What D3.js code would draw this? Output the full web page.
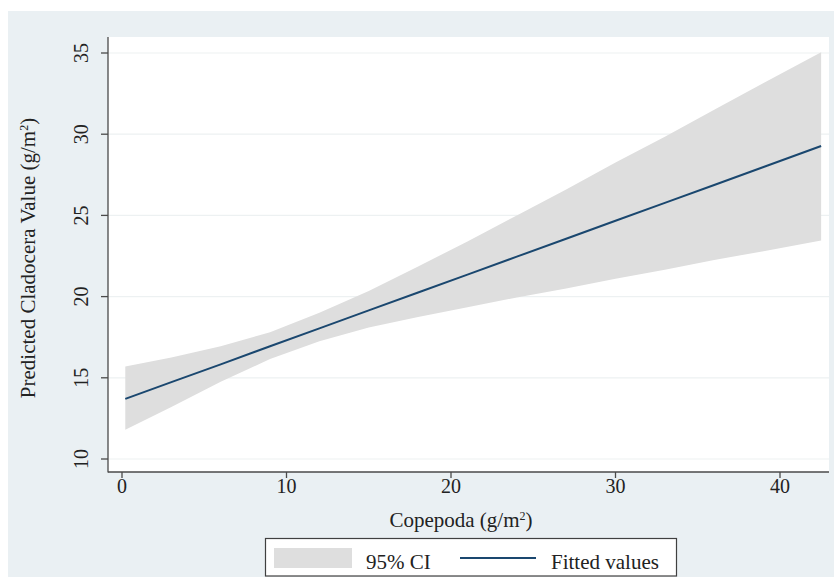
<!DOCTYPE html>
<html>
<head>
<meta charset="utf-8">
<script src="https://cdn.jsdelivr.net/npm/d3@7"></script>
<style>
  html, body { margin: 0; padding: 0; background: #ffffff; }
  svg { display: block; }
  text { font-family: "Liberation Serif", "Times New Roman", "DejaVu Serif", serif; fill: #222; }
</style>
</head>
<body>
<svg id="chart" width="834" height="577"></svg>
<script>
// ---- data ----
const copepoda   = [0.2, 3, 6, 9, 12, 15, 18, 21, 24, 27, 30, 33, 36, 39, 42.5];
const fitted     = [13.70, 14.73, 15.83, 16.94, 18.04, 19.15, 20.25, 21.35, 22.46, 23.56, 24.67, 25.77, 26.87, 27.98, 29.27];
const ciUpper    = [15.70, 16.25, 16.95, 17.80, 19.00, 20.35, 21.85, 23.40, 25.00, 26.60, 28.25, 29.85, 31.50, 33.15, 35.05];
const ciLower    = [11.80, 13.20, 14.75, 16.15, 17.25, 18.10, 18.75, 19.35, 19.95, 20.50, 21.10, 21.65, 22.25, 22.80, 23.45];
const xTicks     = [0, 10, 20, 30, 40];
const yTicks     = [10, 15, 20, 25, 30, 35];
const xTitle     = "Copepoda (g/m";
const yTitle     = "Predicted Cladocera Value (g/m";
const legendLabels = ["95% CI", "Fitted values"];

// ---- layout ----
const W = 834, H = 577;
const plot = { left: 108, right: 829, top: 37, bottom: 472 };
const svg = d3.select("#chart");

const x = d3.scaleLinear().domain([0, 40]).range([122, 780]);
const y = d3.scaleLinear().domain([10, 35]).range([459, 53]);

// graph region background
svg.append("rect").attr("x", 8).attr("y", 11).attr("width", W - 8).attr("height", H - 11)
  .attr("fill", "#eaf0f3");
// plot region
svg.append("rect").attr("x", plot.left).attr("y", plot.top)
  .attr("width", plot.right - plot.left).attr("height", plot.bottom - plot.top)
  .attr("fill", "#ffffff");

// gridlines
svg.append("g").selectAll("line").data(yTicks).join("line")
  .attr("x1", plot.left).attr("x2", plot.right)
  .attr("y1", d => y(d)).attr("y2", d => y(d))
  .attr("stroke", "#edf1f2").attr("stroke-width", 1.2);

const rows = copepoda.map((c, i) => ({ c, f: fitted[i], u: ciUpper[i], l: ciLower[i] }));

// CI band
svg.append("path").datum(rows)
  .attr("d", d3.area().x(d => x(d.c)).y0(d => y(d.l)).y1(d => y(d.u)))
  .attr("fill", "#dedede");

// fitted line
svg.append("path").datum(rows)
  .attr("d", d3.line().x(d => x(d.c)).y(d => y(d.f)))
  .attr("fill", "none").attr("stroke", "#1a476f").attr("stroke-width", 2);

// axes
const axisColor = "#4a4a4a";
svg.append("line").attr("x1", plot.left).attr("x2", plot.left)
  .attr("y1", plot.top).attr("y2", plot.bottom + 0.5)
  .attr("stroke", axisColor).attr("stroke-width", 1.3);
svg.append("line").attr("x1", plot.left).attr("x2", plot.right)
  .attr("y1", plot.bottom).attr("y2", plot.bottom)
  .attr("stroke", axisColor).attr("stroke-width", 1.3);

// y ticks & labels
const yg = svg.append("g");
yg.selectAll("line").data(yTicks).join("line")
  .attr("x1", plot.left - 7).attr("x2", plot.left)
  .attr("y1", d => y(d)).attr("y2", d => y(d))
  .attr("stroke", axisColor).attr("stroke-width", 1.3);
yg.selectAll("text").data(yTicks).join("text")
  .attr("transform", d => `translate(88,${y(d)}) rotate(-90)`)
  .attr("text-anchor", "middle")
  .style("font-size", "20px")
  .text(d => d);

// x ticks & labels
const xg = svg.append("g");
xg.selectAll("line").data(xTicks).join("line")
  .attr("x1", d => x(d)).attr("x2", d => x(d))
  .attr("y1", plot.bottom).attr("y2", plot.bottom + 6)
  .attr("stroke", axisColor).attr("stroke-width", 1.3);
xg.selectAll("text").data(xTicks).join("text")
  .attr("x", d => x(d)).attr("y", 493)
  .attr("text-anchor", "middle")
  .style("font-size", "20px")
  .text(d => d);

// axis titles
const xt = svg.append("text").attr("x", 461).attr("y", 527)
  .attr("text-anchor", "middle").style("font-size", "21px");
xt.append("tspan").text(xTitle);
xt.append("tspan").attr("dy", -7).style("font-size", "12px").text("2");
xt.append("tspan").attr("dy", 7).text(")");

const yt = svg.append("text").attr("transform", "translate(35,258) rotate(-90)")
  .attr("text-anchor", "middle").style("font-size", "21px");
yt.append("tspan").text(yTitle);
yt.append("tspan").attr("dy", -7).style("font-size", "12px").text("2");
yt.append("tspan").attr("dy", 7).text(")");

// legend
const lg = svg.append("g");
lg.append("rect").attr("x", 265.5).attr("y", 538.5).attr("width", 411).attr("height", 37.5)
  .attr("fill", "#ffffff").attr("stroke", "#404040").attr("stroke-width", 1.2);
lg.append("rect").attr("x", 274).attr("y", 548).attr("width", 78).attr("height", 20)
  .attr("fill", "#dedede");
lg.append("text").attr("x", 366).attr("y", 569).style("font-size", "21px").text(legendLabels[0]);
lg.append("line").attr("x1", 460).attr("x2", 536).attr("y1", 558).attr("y2", 558)
  .attr("stroke", "#1a476f").attr("stroke-width", 2);
lg.append("text").attr("x", 551).attr("y", 569).style("font-size", "21px").text(legendLabels[1]);
</script>
</body>
</html>
